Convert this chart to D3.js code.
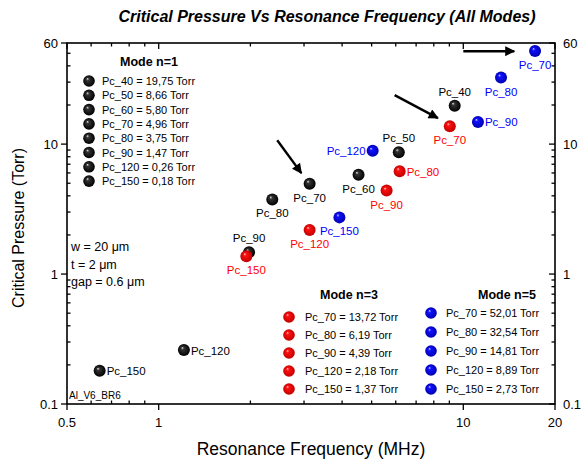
<!DOCTYPE html>
<html><head><meta charset="utf-8">
<script src="https://cdn.jsdelivr.net/npm/d3@7"></script>
<style>html,body{margin:0;padding:0;background:#fff;}svg{display:block;font-family:"Liberation Sans",Arial,sans-serif;}</style>
</head><body>
<svg id="c" width="581" height="461"></svg>
<script>
// ---- data ----
const mode1Labels = ["Pc_40","Pc_50","Pc_60","Pc_70","Pc_80","Pc_90","Pc_120","Pc_150"];
const mode1Freq   = [9.37, 6.14, 4.53, 3.13, 2.36, 1.98, 1.21, 0.64];
const mode1Pc     = [19.75, 8.66, 5.80, 4.96, 3.75, 1.47, 0.26, 0.18];
const mode3Labels = ["Pc_70","Pc_80","Pc_90","Pc_120","Pc_150"];
const mode3Freq   = [9.03, 6.18, 5.60, 3.13, 1.94];
const mode3Pc     = [13.72, 6.19, 4.39, 2.18, 1.37];
const mode5Labels = ["Pc_70","Pc_80","Pc_90","Pc_120","Pc_150"];
const mode5Freq   = [17.2, 13.3, 11.17, 5.04, 3.92];
const mode5Pc     = [52.01, 32.54, 14.81, 8.89, 2.73];
const xTickLabels = [0.5, 1, 10, 20];
const yTickLabels = [0.1, 1, 10, 60];
// annotation arrows in data coords [x1,y1,x2,y2]
const arrows = [[2.45,10.7,2.94,5.98],[5.95,23.8,8.25,15.85],[10.0,51.9,14.7,51.9]];

// ---- layout/style ----
const place1 = ["above","above","below","below","below","above","right","right"];
const place3 = ["below","right","below","below","below"];
const place5 = ["below","below","right","left","below"];

const svg = d3.select("#c");
const x = d3.scaleLog().domain([0.5,20]).range([67,555]);
const y = d3.scaleLog().domain([0.1,60]).range([404,43]);

// gradients
const defs = svg.append("defs");
function grad(id, hi, mid, edge){
  const g = defs.append("radialGradient").attr("id",id).attr("cx","50%").attr("cy","50%").attr("r","50%").attr("fx","35%").attr("fy","30%");
  g.append("stop").attr("offset","0%").attr("stop-color",hi);
  g.append("stop").attr("offset","25%").attr("stop-color",mid);
  g.append("stop").attr("offset","100%").attr("stop-color",edge);
}
grad("gk","#e8e8e8","#333","#000");
grad("gr","#ffd0d0","#ff1010","#c00000");
grad("gb","#d0d0ff","#1010ff","#0000b0");

// axes frame
const axisColor = "#000";
const x0 = x.range()[0], x1 = x.range()[1], y0 = y.range()[0], y1 = y.range()[1];
svg.append("rect").attr("x",x0).attr("y",y1).attr("width",x1-x0).attr("height",y0-y1)
  .attr("fill","none").attr("stroke",axisColor).attr("stroke-width",1.6);

// ticks
function minorVals(scale){
  const [a,b] = scale.domain(); const out=[];
  for(let e=-2;e<=3;e++){ for(let m=1;m<10;m++){ const v=m*Math.pow(10,e); if(v>a*1.0001 && v<b*0.9999) out.push(v);} }
  return out;
}
const majX = xTickLabels, majY = yTickLabels;
const minX = minorVals(x).filter(v=>!majX.some(m=>Math.abs(m-v)<1e-9));
const minY = minorVals(y).filter(v=>!majY.some(m=>Math.abs(m-v)<1e-9));
const tg = svg.append("g").attr("stroke",axisColor).attr("stroke-width",1.3);
// bottom
majX.forEach(v=>tg.append("line").attr("x1",x(v)).attr("x2",x(v)).attr("y1",y0).attr("y2",y0+6));
minX.forEach(v=>tg.append("line").attr("x1",x(v)).attr("x2",x(v)).attr("y1",y0).attr("y2",y0-3.5));
// top
majX.forEach(v=>tg.append("line").attr("x1",x(v)).attr("x2",x(v)).attr("y1",y1).attr("y2",y1+6));
minX.forEach(v=>tg.append("line").attr("x1",x(v)).attr("x2",x(v)).attr("y1",y1).attr("y2",y1+3.5));
// left
majY.forEach(v=>tg.append("line").attr("y1",y(v)).attr("y2",y(v)).attr("x1",x0).attr("x2",x0-6));
minY.forEach(v=>tg.append("line").attr("y1",y(v)).attr("y2",y(v)).attr("x1",x0).attr("x2",x0+3.5));
// right
majY.forEach(v=>tg.append("line").attr("y1",y(v)).attr("y2",y(v)).attr("x1",x1).attr("x2",x1-6));
minY.forEach(v=>tg.append("line").attr("y1",y(v)).attr("y2",y(v)).attr("x1",x1).attr("x2",x1-3.5));

// tick labels
const fmt = v => String(v);
const tl = svg.append("g").attr("font-size",13).attr("fill","#000");
majX.forEach(v=>tl.append("text").attr("x",x(v)).attr("y",y0+23).attr("text-anchor","middle").text(fmt(v)));
majY.forEach(v=>tl.append("text").attr("x",x0-9).attr("y",y(v)+4.5).attr("text-anchor","end").text(fmt(v)));
majY.forEach(v=>tl.append("text").attr("x",x1+8).attr("y",y(v)+4.5).attr("text-anchor","start").text(fmt(v)));

// axis titles
svg.append("text").attr("x",311).attr("y",455).attr("text-anchor","middle").attr("font-size",17.5).text("Resonance Frequency (MHz)");
svg.append("text").attr("transform","translate(24,228) rotate(-90)").attr("text-anchor","middle").attr("font-size",16).text("Critical Pressure (Torr)");
// title
svg.append("text").attr("x",327).attr("y",22).attr("text-anchor","middle").attr("font-size",16)
  .attr("font-weight","bold").attr("font-style","italic").text("Critical Pressure Vs Resonance Frequency (All Modes)");

// arrows
defs.append("marker").attr("id","ah").attr("viewBox","0 0 10 10").attr("refX",9).attr("refY",5)
  .attr("markerWidth",5).attr("markerHeight",4.2).attr("markerUnits","strokeWidth").attr("orient","auto")
  .append("path").attr("d","M0,0 L10,5 L0,10 Z").attr("fill","#000");
arrows.forEach(a=>svg.append("line").attr("x1",x(a[0])).attr("y1",y(a[1])).attr("x2",x(a[2])).attr("y2",y(a[3]))
  .attr("stroke","#000").attr("stroke-width",2.4).attr("marker-end","url(#ah)"));

// series
function series(labels, fr, pc, place, gid, color){
  const g = svg.append("g");
  labels.forEach((l,i)=>{
    const px=x(fr[i]), py=y(pc[i]);
    g.append("circle").attr("cx",px).attr("cy",py).attr("r",6).attr("fill",`url(#${gid})`);
    const t = g.append("text").attr("font-size",11.5).attr("fill",color).text(l);
    const p = place[i];
    if(p==="below") t.attr("x",px).attr("y",py+18).attr("text-anchor","middle");
    else if(p==="above") t.attr("x",px).attr("y",py-10).attr("text-anchor","middle");
    else if(p==="right") t.attr("x",px+7).attr("y",py+4.5).attr("text-anchor","start");
    else t.attr("x",px-7).attr("y",py+4.5).attr("text-anchor","end");
  });
}
series(mode1Labels, mode1Freq, mode1Pc, place1, "gk", "#000");
series(mode3Labels, mode3Freq, mode3Pc, place3, "gr", "#ff0000");
series(mode5Labels, mode5Freq, mode5Pc, place5, "gb", "#0000ff");

// legends
const cf = v => d3.format(".2f")(v).replace(".",",");
function legend(title, tx, ty, mx, tx0, rows, labels, pc, gid, fs){
  svg.append("text").attr("x",tx).attr("y",ty).attr("text-anchor","middle").attr("font-size",12.5).attr("font-weight","bold").text(title);
  labels.forEach((l,i)=>{
    svg.append("circle").attr("cx",mx).attr("cy",rows[i]).attr("r",5.8).attr("fill",`url(#${gid})`);
    svg.append("text").attr("x",tx0).attr("y",rows[i]+4).attr("font-size",fs).text(`${l} = ${cf(pc[i])} Torr`);
  });
}
legend("Mode n=1", 149, 66, 89, 102, d3.range(8).map(i=>81+i*14.3), mode1Labels, mode1Pc, "gk", 11);
legend("Mode n=3", 349, 299, 289, 305, d3.range(5).map(i=>317+i*18), mode3Labels, mode3Pc, "gr", 11);
legend("Mode n=5", 507, 299, 431, 446, d3.range(5).map(i=>313+i*19), mode5Labels, mode5Pc, "gb", 11);

// notes
const notes = svg.append("g").attr("font-size",12.5);
notes.append("text").attr("x",71).attr("y",251).text("w = 20 μm");
notes.append("text").attr("x",71).attr("y",269).text("t = 2 μm");
notes.append("text").attr("x",71).attr("y",286).text("gap = 0.6 μm");
svg.append("text").attr("x",69).attr("y",399).attr("font-size",10).text("Al_V6_BR6");
</script>
</body></html>
